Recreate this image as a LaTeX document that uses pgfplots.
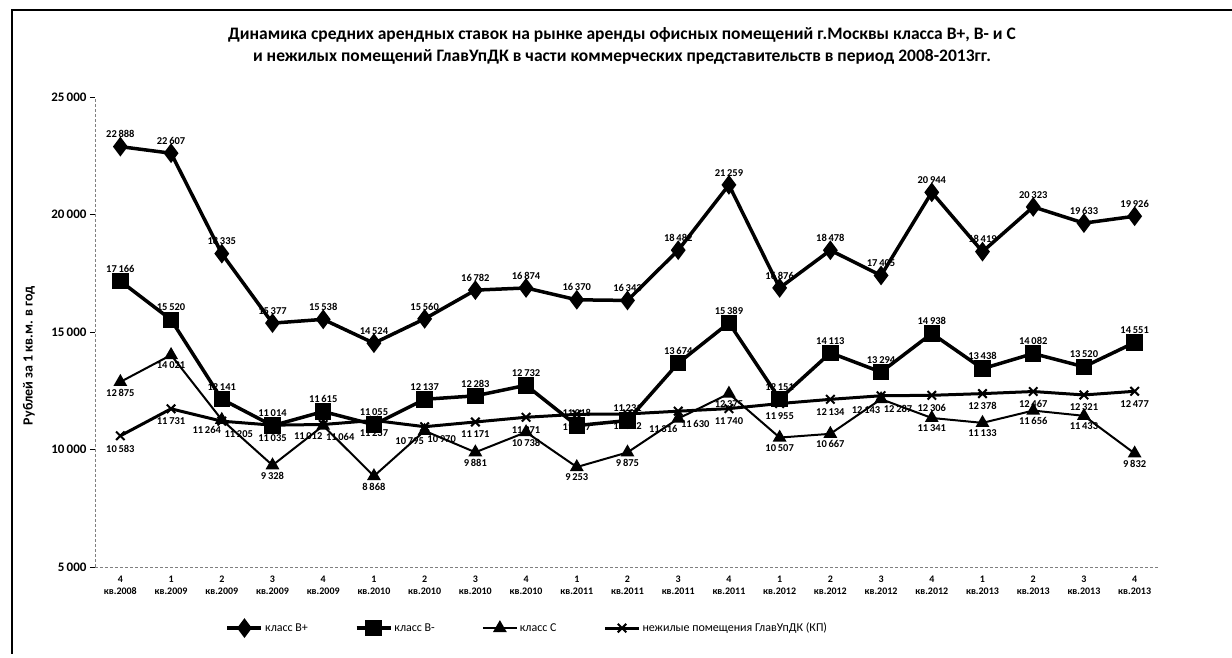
\documentclass[border=0pt]{standalone}
\usepackage{fontspec}
\setmainfont{Carlito}
\usepackage{pgfplots}
\pgfplotsset{compat=1.18}
\begin{document}
\begin{tikzpicture}[x=1pt,y=1pt]
\path[use as bounding box] (0,0) rectangle (1232,658);
\draw[line width=1.2pt] (12,4) -- (12,648) -- (1232,648);
\node[font=\bfseries\fontsize{17.5}{22}\selectfont, align=center] at (622,612) {Динамика средних арендных ставок на рынке аренды офисных помещений г.Москвы класса B+, B- и С\\и нежилых помещений ГлавУпДК в части коммерческих представительств в период 2008-2013гг.};
\begin{axis}[at={(95pt,91pt)}, anchor=south west, scale only axis, width=1065pt, height=470pt,
  xmin=-0.5, xmax=20.5, ymin=5000, ymax=25000,
  ytick={5000,10000,15000,20000,25000},
  scaled ticks=false,
  xtick={0,...,20},
  xticklabels={{4\\кв.2008},{1\\кв.2009},{2\\кв.2009},{3\\кв.2009},{4\\кв.2009},{1\\кв.2010},{2\\кв.2010},{3\\кв.2010},{4\\кв.2010},{1\\кв.2011},{2\\кв.2011},{3\\кв.2011},{4\\кв.2011},{1\\кв.2012},{2\\кв.2012},{3\\кв.2012},{4\\кв.2012},{1\\кв.2013},{2\\кв.2013},{3\\кв.2013},{4\\кв.2013}},
  xticklabel style={align=center, font=\bfseries\fontsize{10}{12}\selectfont},
  yticklabel style={font=\bfseries\fontsize{13}{15}\selectfont},
  /pgf/number format/.cd, assume math mode=true, 1000 sep={\,}, fixed, precision=0, /pgfplots/.cd,
  axis x line*=bottom, axis y line*=left,
  axis line style={gray, densely dashed, line width=0.8pt},
  x axis line style={-}, y axis line style={-},
  xtick style={draw=none},
  ytick style={black, line width=0.8pt}, tick align=outside, major tick length=5pt,
  ylabel={Рублей за 1 кв.м. в год},
  ylabel style={at={(axis description cs:-0.062,0.45)}, anchor=center, font=\bfseries\fontsize{14}{16}\selectfont},
  nodes near coords,
  every node near coord/.append style={font=\bfseries\fontsize{10.5}{12}\selectfont, black, inner sep=1pt},
  legend style={at={(rel axis cs:0.406,-0.13)}, anchor=center, draw=none, font=\fontsize{12}{14}\selectfont, legend columns=4, /tikz/every even column/.append style={column sep=45pt}},
  legend image code/.code={\draw[mark repeat=2,mark phase=2] plot coordinates {(0pt,0pt) (17pt,0pt) (34pt,0pt)};},
]
\addplot[black, line width=3.5pt, mark=diamond*, mark size=7pt, mark options={solid}, nodes near coords style={anchor=south, yshift=6pt}] coordinates {
(0,22888) (1,22607) (2,18335) (3,15377) (4,15538) (5,14524) (6,15560) (7,16782) (8,16874) (9,16370) (10,16343) (11,18482) (12,21259) (13,16876) (14,18478) (15,17405) (16,20944) (17,18419) (18,20323) (19,19633) (20,19926)};
\addlegendentry{класс B+}
\addplot[black, line width=3.5pt, mark=square*, mark size=6.5pt, nodes near coords style={anchor=south, yshift=6pt}] coordinates {
(0,17166) (1,15520) (2,12141) (3,11014) (4,11615) (5,11055) (6,12137) (7,12283) (8,12732) (9,11018) (10,11231) (11,13674) (12,15389) (13,12151) (14,14113) (15,13294) (16,14938) (17,13438) (18,14082) (19,13520) (20,14551)};
\addlegendentry{класс B-}
\addplot[black, line width=2pt, mark=triangle*, mark size=6pt,
  visualization depends on={value \thisrow{dx} \as \lbldx},
  nodes near coords style={anchor=north, xshift=\lbldx, yshift=-5pt}] table[x=x, y=y] {
x y dx
0 12875 0pt
1 14021 0pt
2 11264 -15pt
3 9328 0pt
4 11012 -15pt
5 8868 0pt
6 10795 -15pt
7 9881 0pt
8 10738 0pt
9 9253 0pt
10 9875 0pt
11 11316 -15pt
12 12375 0pt
13 10507 0pt
14 10667 0pt
15 12143 -15pt
16 11341 0pt
17 11133 0pt
18 11656 0pt
19 11433 0pt
20 9832 0pt
};
\addlegendentry{класс C}
\addplot[black, line width=3pt, mark=x, mark size=6pt, mark options={line width=2pt},
  visualization depends on={value \thisrow{dx} \as \lbldx},
  nodes near coords style={anchor=north, xshift=\lbldx, yshift=-7pt}] table[x=x, y=y] {
x y dx
0 10583 0pt
1 11731 0pt
2 11205 17pt
3 11035 0pt
4 11064 17pt
5 11237 0pt
6 10970 17pt
7 11171 0pt
8 11371 0pt
9 11497 0pt
10 11512 0pt
11 11630 17pt
12 11740 0pt
13 11955 0pt
14 12134 0pt
15 12287 17pt
16 12306 0pt
17 12378 0pt
18 12467 0pt
19 12321 0pt
20 12477 0pt
};
\addlegendentry{нежилые помещения ГлавУпДК (КП)}
\end{axis}
\end{tikzpicture}
\end{document}
